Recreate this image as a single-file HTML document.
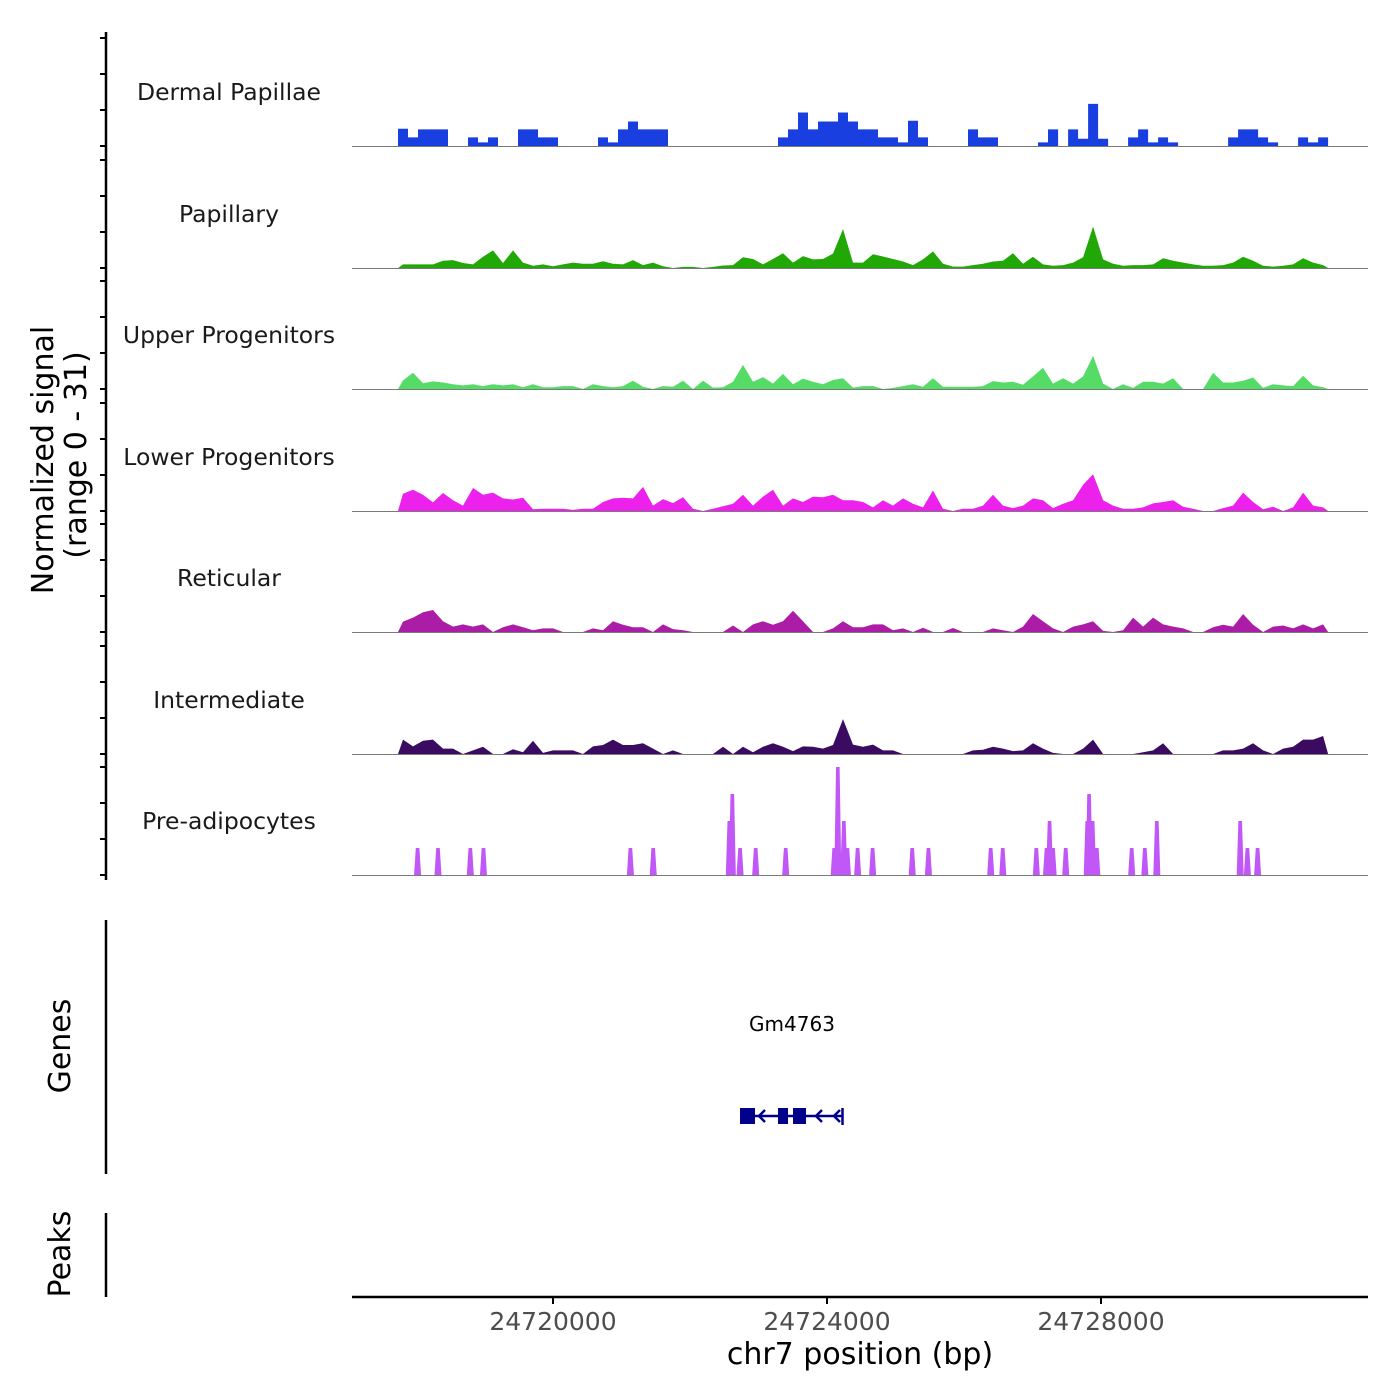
<!DOCTYPE html>
<html><head><meta charset="utf-8"><style>
html,body{margin:0;padding:0;background:#fff;}
svg{display:block;font-family:"DejaVu Sans","Liberation Sans",sans-serif;}
</style></head><body>
<svg id="chart" width="1400" height="1400" viewBox="0 0 1400 1400" xmlns="http://www.w3.org/2000/svg">
<rect width="1400" height="1400" fill="#fff"/>
<g id="tracks"></g>
<g id="axes"></g>
</svg>
<script>
const trackNames = ["Dermal Papillae","Papillary","Upper Progenitors","Lower Progenitors","Reticular","Intermediate"];
const trackColors = ["#1a3fe0","#21a806","#55dc66","#ec22ec","#ab1ca7","#3b0b62"];
const dermalValues = [4.8,2.4,4.6,4.6,4.6,0,0,2.4,1,2.4,0,0,4.6,4.6,2.4,2.4,0,0,0,0,2.4,1,4.6,6.8,4.6,4.6,4.6,0,0,0,0,0,0,0,0,0,0,0,2.4,4.6,9.3,4.6,6.8,6.8,9.3,6.8,4.6,4.6,2.4,2.4,1,7,2.4,0,0,0,0,4.6,2.4,2.4,0,0,0,0,1,4.6,0,4.6,2,11.7,2,0,0,2.4,4.6,1,2.4,1,0,0,0,0,0,2.4,4.6,4.6,2.4,1,0,0,2.4,1,2.4];
const papillaryValues = [1,1,1,1,2,2.2,1.4,1,3.1,4.9,1.4,4.9,1.5,0.6,1,0.5,1,1.5,1.2,1.2,1.9,1.2,1,2.2,0.8,1.5,0.5,0,0.3,0.3,0,0.3,0.7,0.8,3,2.5,1,2.5,4.1,1.5,3.3,2.4,2.5,4,10.8,1.5,1.5,3.8,3.2,2.5,1.8,0.8,2.4,4.6,1.2,0.4,0.4,0.8,1.2,1.8,2,4.1,1.2,3.1,1,0.6,0.8,1.5,3,11.5,2.4,1.2,0.6,0.8,0.8,1,2.7,2,1.5,1,0.6,0.6,0.8,1.5,3.1,2,0.6,0.4,0.6,1,2.7,1.5,0.8];
const upperValues = [2.4,4.5,1.6,2.1,1.8,1.3,1,1.3,0.8,1.3,1,1.3,0.5,1.3,0.5,0.5,0.8,0.8,0,1.3,0.8,0.5,0.8,2.3,0.6,0,0.8,0.6,2.3,0,2.3,0.4,0.5,2,6.7,2,3.3,1.5,4.2,1.3,2.9,2,1.3,2.5,3,0.4,0.8,0.8,0,0.3,0.8,1.3,0.6,3,0.6,0.6,0.6,0.6,0.8,2.2,1.8,2,1.2,3.5,5.9,1.5,3,1.5,3.5,9.2,1.5,0,1.3,0.3,2,2,1.5,3,0,0,0,4.5,1.8,1.8,2.3,3.2,0.3,1.3,1,0.8,3.7,1,0.5];
const lowerValues = [4.8,5.9,4.5,2.4,5,3,1.5,6.4,4.5,5.1,3.5,3.2,3.7,0.5,0.6,0.6,0.6,0.3,0.6,0.6,2.5,3.5,3.7,3.5,6.7,1.5,3.3,2.2,3.8,0.6,0,0.6,1.3,2,4.5,1.5,4,5.9,1.5,3.5,2.5,4,3.8,4.5,3,3,2.5,1,3,1.5,3.5,2,1,5.7,0.6,0,0.6,0.6,1.5,4.5,1.5,0.8,1.5,3.5,3,0.8,2,3,7.3,10.2,3,1.5,0.6,0.6,1,2.1,2.5,3,1.2,0.6,0,0,0.8,1.5,5.1,2.5,0.5,1.2,0,1,5.1,1.5,1];
const reticularValues = [2.9,4,5.5,6.1,3,1.5,2.1,1.5,2.1,0,1.3,2.1,1.3,0.5,1,1,0,0,0,1,0.5,3,2,1.3,1.3,0,2.1,0.8,0.5,0,0,0,0,1.8,0,2.1,3,2,3,5.9,3,0,0,1,3,1.3,1.3,2.1,2.1,0.5,1,0,1.2,0,0,1.1,0,0,0,1,0.5,0,1.5,5,3,1,0,1.5,2.1,3,0.3,0,0.5,4,1.5,4,2.1,1.5,1,0,0,1.3,2,1.5,5,2,0,1.5,1.8,1,2.1,1,2.1];
const intermediateValues = [4,2.1,3.7,4,1.5,1.5,0,1,2,0,0,1.3,0.5,3.7,0.3,1,1,1,0,2.1,2.5,4,2.5,2.5,3,1.5,0,1,0,0,0,0,2,0,2,0.5,2,3,2,0.8,2.1,2,1.5,2.5,9.7,2.6,2,2.6,1,1,0,0,0,0,0,0,0,1,1.2,2,1.5,0.8,1,3,1.5,0.3,0,0,1.5,4,0,0,0,0,0.5,1,3,0,0,0,0,0,1,1,1.5,3,1,0,1.5,2,4,4,5];
const preadipPositions = [24718023,24718321,24718793,24718985,24721130,24721463,24722574,24722618,24722731,24722959,24723397,24724105,24724158,24724246,24724298,24724447,24724666,24725244,24725481,24726390,24726566,24727056,24727205,24727249,24727301,24727485,24727799,24727826,24727878,24727939,24728448,24728640,24728815,24730032,24730137,24730286];
const preadipValues = [7.5,7.5,7.5,7.5,7.5,7.5,15,22.5,7.5,7.5,7.5,7.5,30,15,7.5,7.5,7.5,7.5,7.5,7.5,7.5,7.5,7.5,15,7.5,7.5,15,22.5,15,7.5,7.5,7.5,15,15,7.5,7.5];
const xTickValues = [24720000,24724000,24728000];
const xTickLabels = ["24720000","24724000","24728000"];
const yTickValues = [0,10,20,30];

const NS="http://www.w3.org/2000/svg";
const binStart = 24717737, binSize = 146;
function xScale(g){ return 553 + (g - 24720000) * 0.0685; }
const baselines = [146,268,389,511,632,754,875];
function yScale(v, t){ return baselines[t] - v * 3.6; }
function mk(tag, attrs, parent){ const e=document.createElementNS(NS,tag); for(const k in attrs) e.setAttribute(k,attrs[k]); parent.appendChild(e); return e; }
const tracksG=document.getElementById('tracks'), axesG=document.getElementById('axes');
const series=[dermalValues,papillaryValues,upperValues,lowerValues,reticularValues,intermediateValues];
series.forEach((vals,t)=>{
  let d;
  if(t===0){
    d='M'+xScale(binStart)+','+yScale(0,t);
    vals.forEach((v,i)=>{ const x0=xScale(binStart+i*binSize), x1=xScale(binStart+(i+1)*binSize);
      d+=' L'+x0.toFixed(1)+','+yScale(v,t).toFixed(1)+' L'+x1.toFixed(1)+','+yScale(v,t).toFixed(1); });
    d+=' L'+xScale(binStart+vals.length*binSize)+','+yScale(0,t)+' Z';
  } else {
    d='M'+xScale(binStart).toFixed(1)+','+yScale(0,t);
    vals.forEach((v,i)=>{ const xc=xScale(binStart+(i+0.5)*binSize); d+=' L'+xc.toFixed(1)+','+yScale(v,t).toFixed(1); });
    d+=' L'+xScale(binStart+vals.length*binSize).toFixed(1)+','+yScale(0,t)+' Z';
  }
  const p=mk('path',{d:d,fill:trackColors[t]},tracksG);
  
  
});
preadipPositions.forEach((g,i)=>{
  const xc=xScale(g), y=yScale(preadipValues[i],6), b=yScale(0,6);
  const p=mk('path',{d:`M${xc-3.5},${b} L${xc-1.8},${y} L${xc+1.8},${y} L${xc+3.5},${b} Z`,fill:'#c257f7'},tracksG);
  
  
});
const allNames=trackNames.concat(["Pre-adipocytes"]);
allNames.forEach((n,t)=>{
  const l=mk('line',{x1:352,x2:1368,y1:baselines[t]+0.5,y2:baselines[t]+0.5,stroke:'#7a7a7a','stroke-width':1},axesG);
  
  
  const tx=mk('text',{x:229,y:baselines[t]-46,'text-anchor':'middle','font-size':23.5,fill:'#1a1a1a'},axesG);
  tx.textContent=n;
  
  
  yTickValues.forEach(v=>{
    const tk=mk('line',{x1:100,x2:106,y1:yScale(v,t),y2:yScale(v,t),stroke:'#000','stroke-width':2},axesG);
    
    
  });
});
xTickValues.forEach((g,i)=>{
  const tk=mk('line',{x1:xScale(g),x2:xScale(g),y1:1297,y2:1304,stroke:'#000','stroke-width':2},axesG);
  
  
  const tl=mk('text',{x:xScale(g),y:1330,'text-anchor':'middle','font-size':25,fill:'#4d4d4d'},axesG);
  tl.textContent=xTickLabels[i];
  
  
});
</script>
<svg style="position:absolute;left:0;top:0" width="1400" height="1400" xmlns="http://www.w3.org/2000/svg" font-family="DejaVu Sans, Liberation Sans, sans-serif">
<line x1="106" x2="106" y1="32" y2="880" stroke="#000" stroke-width="2.5"/>
<line x1="106" x2="106" y1="920" y2="1174" stroke="#000" stroke-width="2.5"/>
<line x1="106" x2="106" y1="1213" y2="1297" stroke="#000" stroke-width="2.5"/>
<line x1="352" x2="1368" y1="1297" y2="1297" stroke="#000" stroke-width="2.5"/>
<text transform="translate(53,460) rotate(-90)" text-anchor="middle" font-size="30" fill="#000">Normalized signal</text>
<text transform="translate(86,455) rotate(-90)" text-anchor="middle" font-size="30" fill="#000">(range 0 - 31)</text>
<text transform="translate(70,1046) rotate(-90)" text-anchor="middle" font-size="30" fill="#000">Genes</text>
<text transform="translate(70,1254) rotate(-90)" text-anchor="middle" font-size="30" fill="#000">Peaks</text>
<text x="860" y="1364" text-anchor="middle" font-size="30" fill="#000">chr7 position (bp)</text>
<g fill="#00008b" stroke="#00008b">
<text x="792" y="1031" text-anchor="middle" font-size="20" stroke="none" fill="#000">Gm4763</text>
<line x1="740" x2="843" y1="1116" y2="1116" stroke-width="2.5"/>
<rect x="740" y="1108" width="15" height="16" stroke="none"/>
<rect x="778" y="1108" width="10" height="16" stroke="none"/>
<rect x="793" y="1108" width="13" height="16" stroke="none"/>
<line x1="842.5" x2="842.5" y1="1108" y2="1125" stroke-width="2.5"/>
<polyline points="765,1110 759,1116 765,1122" fill="none" stroke-width="2.5"/>
<polyline points="822,1110 816,1116 822,1122" fill="none" stroke-width="2.5"/>
<polyline points="840,1110 834,1116 840,1122" fill="none" stroke-width="2.5"/>
</g>
</svg>
</body></html>
